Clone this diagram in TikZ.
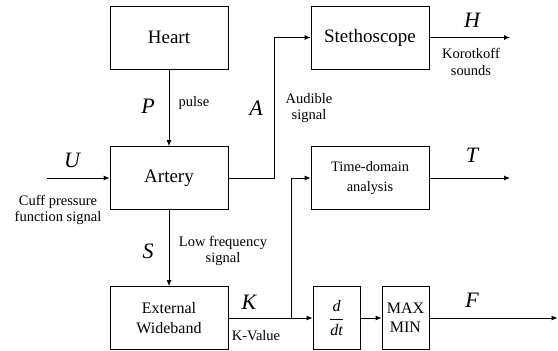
\documentclass[tikz,border=0pt]{standalone}
\usepackage{fontspec}
\setmainfont{Liberation Serif}
\usetikzlibrary{arrows.meta}

\begin{document}
\begin{tikzpicture}[x=1pt,y=1pt,line width=0.8pt,
  blk/.style={draw,minimum width=118pt,minimum height=63pt,inner sep=0pt,align=center,font=\fontsize{19}{22}\selectfont},
  sblk/.style={draw,minimum width=47pt,minimum height=63pt,inner sep=0pt,align=center,font=\fontsize{16}{19}\selectfont},
  sig/.style={-{Latex[length=6pt,width=5pt]}},
  var/.style={font=\fontsize{22}{22}\selectfont\itshape},
  lbl/.style={align=center,font=\fontsize{14.5}{16.5}\selectfont}]
\useasboundingbox (0,0) rectangle (558,351);
% blocks
\node[blk] (heart) at (169,313.5) {Heart};
\node[blk] (artery) at (169,173) {Artery};
\node[blk] (stetho) at (370,313.5) {Stethoscope};
\node[blk,font=\fontsize{14.4}{20}\selectfont] (timedom) at (370,173) {Time-domain\\analysis};
\node[blk,font=\fontsize{16}{20}\selectfont] (extwb) at (169,33) {External\\Wideband};
\node[sblk] (ddt) at (336.5,33) {$\displaystyle\frac{\textit{d}}{\textit{dt}}$};
\node[sblk] (maxmin) at (405.5,33) {MAX\\MIN};
% free ends
\coordinate (uin) at (47,173);
\coordinate (ajog) at (274,173);
\coordinate (hout) at (510,313.5);
\coordinate (tout) at (510,173);
\coordinate (kjunc) at (291,33);
\coordinate (fout) at (557.5,33);
% connectors
\draw[sig] (heart) -- (artery);
\draw[sig] (uin) -- (artery);
\draw[sig] (artery.east) -- (ajog) |- (stetho.west);
\draw[sig] (stetho) -- (hout);
\draw[sig] (artery) -- (extwb);
\draw[sig] (extwb) -- (ddt);
\draw[sig] (kjunc) |- (timedom.west);
\draw[sig] (timedom) -- (tout);
\draw[sig] (ddt) -- (maxmin);
\draw[sig] (maxmin) -- (fout);
% labels
\node[var] (p) at (148,245) {P};
\node[lbl] (pulse) at (194,248) {pulse};
\node[var] (u) at (72,191) {U};
\node[lbl] (cuff) at (58,141) {Cuff pressure\\function signal};
\node[var] (a) at (256,243) {A};
\node[lbl] (aud) at (309,243) {Audible\\signal};
\node[var] (h) at (472,331) {H};
\node[lbl] (koro) at (471,289) {Korotkoff\\sounds};
\node[var] (t) at (472,196) {T};
\node[var] (s) at (148,100) {S};
\node[lbl] (lowf) at (223,100) {Low frequency\\signal};
\node[var] (k) at (249,49) {K};
\node[lbl] (kval) at (256,15) {K-Value};
\node[var] (f) at (472,51) {F};
\end{tikzpicture}
\end{document}
